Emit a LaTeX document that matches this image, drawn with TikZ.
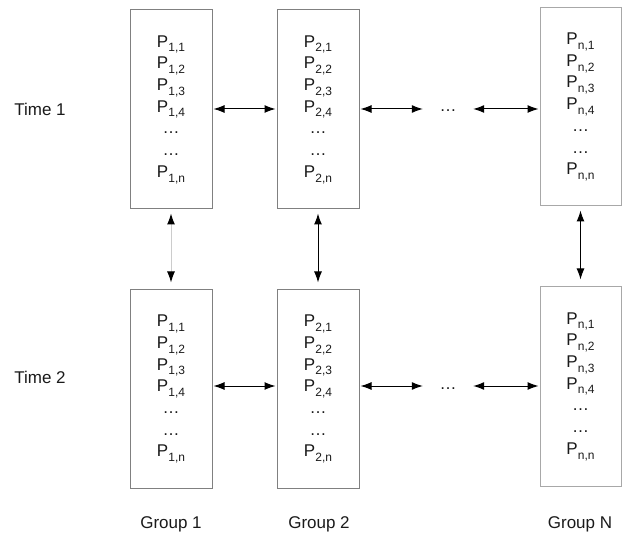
\documentclass[tikz,border=0pt]{standalone}
\usepackage{fontspec}
\setmainfont{Liberation Sans}
\usetikzlibrary{arrows.meta}
\newcommand\sbx[1]{\raisebox{-0.28em}{\fontsize{12}{12}\selectfont #1}}
\newcommand\pcol[1]{P\sbx{#1,1}\\P\sbx{#1,2}\\P\sbx{#1,3}\\P\sbx{#1,4}\\…\\…\\P\sbx{#1,n}}
\definecolor{txt}{HTML}{1A1A1A}
\definecolor{boxc}{HTML}{808080}
\definecolor{boxl}{HTML}{A8A8A8}
\tikzset{
  grp/.style={draw=boxc, line width=1pt, minimum width=82pt, inner sep=0pt, align=center, text=txt,
    font=\fontsize{17}{21.7}\selectfont},
  lbl/.style={text=txt, font=\fontsize{17}{20}\selectfont, inner sep=0pt},
  arr/.style={{Latex[length=11pt,width=8pt,color=black]}-{Latex[length=11pt,width=8pt,color=black]}, line width=1pt, black, shorten <=1pt, shorten >=1pt},
  varr/.style={{Latex[length=11pt,width=8pt,color=black]}-{Latex[length=11pt,width=8pt,color=black]}, line width=1pt, black, shorten <=4pt, shorten >=7pt},
}
\begin{document}
\begin{tikzpicture}[x=1pt,y=-1pt]
\useasboundingbox (0,0) rectangle (624,537);
\node[grp, minimum height=199pt] (a1) at (171,109.5) {\pcol{1}};
\node[grp, minimum height=199pt] (b1) at (318,109.5) {\pcol{2}};
\node[grp, draw=boxl, minimum height=198pt, minimum width=81pt] (n1) at (580.5,107) {\pcol{n}};
\node[grp, minimum height=198pt] (a2) at (171,389) {\pcol{1}};
\node[grp, minimum height=198pt] (b2) at (318,389) {\pcol{2}};
\node[grp, draw=boxl, minimum height=199pt, minimum width=81pt] (n2) at (580.5,386.5) {\pcol{n}};
\node[lbl] (t1) at (40,109) {Time 1};
\node[lbl] (t2) at (40,377) {Time 2};
\node[lbl] (g1) at (171,524) {Group 1};
\node[lbl] (g2) at (319,524) {Group 2};
\node[lbl] (gn) at (580,524) {Group N};
\node[lbl, minimum width=48pt, text height=6pt, text depth=0pt] (d1) at (448,109) {…};
\node[lbl, minimum width=48pt, text height=6pt, text depth=0pt] (d2) at (448,386) {…};
\draw[arr] (a1.east |- 0,109) -- (b1.west |- 0,109);
\draw[arr] (b1.east |- 0,109) -- (d1.west);
\draw[arr] (d1.east) -- (n1.west |- 0,109);
\draw[arr] (a2.east |- 0,386) -- (b2.west |- 0,386);
\draw[arr] (b2.east |- 0,386) -- (d2.west);
\draw[arr] (d2.east) -- (n2.west |- 0,386);
\draw[varr, draw=gray!40] (a1.south) -- (a2.north);
\draw[varr] (b1.south) -- (b2.north);
\draw[varr] (n1.south) -- (n2.north);
\end{tikzpicture}
\end{document}
